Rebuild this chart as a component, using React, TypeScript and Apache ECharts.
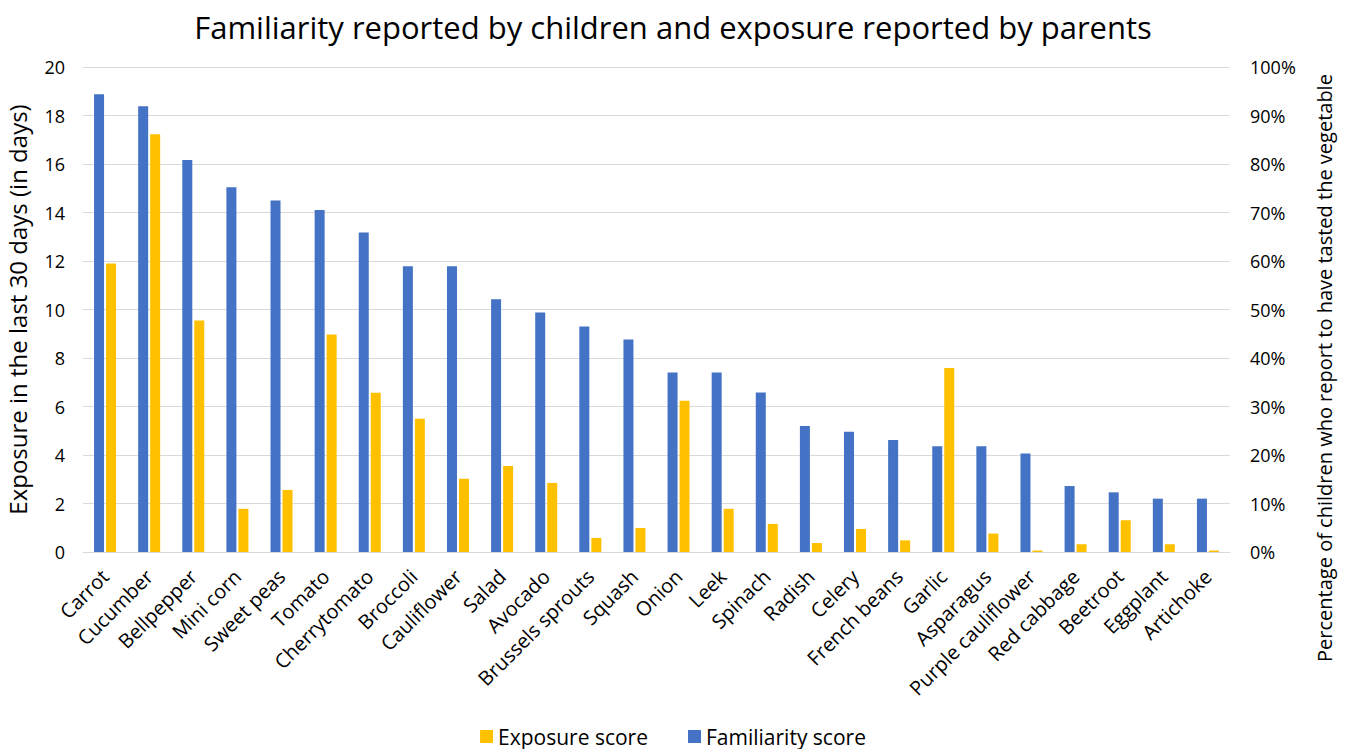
import React, { useEffect, useRef } from "react";
import * as echarts from "echarts";

const vegetables = [
  "Carrot", "Cucumber", "Bellpepper", "Mini corn", "Sweet peas", "Tomato",
  "Cherrytomato", "Broccoli", "Cauliflower", "Salad", "Avocado",
  "Brussels sprouts", "Squash", "Onion", "Leek", "Spinach", "Radish",
  "Celery", "French beans", "Garlic", "Asparagus", "Purple cauliflower",
  "Red cabbage", "Beetroot", "Eggplant", "Artichoke",
];

// Days of exposure in the last 30 days (parents' report)
const exposureScore = [
  11.9, 17.23, 9.55, 1.78, 2.56, 8.97, 6.57, 5.5, 3.02, 3.55, 2.85,
  0.58, 0.99, 6.24, 1.78, 1.16, 0.37, 0.95, 0.48, 7.59, 0.76, 0.06,
  0.32, 1.31, 0.32, 0.06,
];

// Share of children who report having tasted the vegetable (%)
const familiarityScore = [
  94.4, 91.9, 80.8, 75.2, 72.5, 70.5, 65.9, 58.9, 58.9, 52.1, 49.4,
  46.5, 43.8, 37.0, 37.0, 32.9, 26.0, 24.8, 23.1, 21.8, 21.8, 20.3,
  13.6, 12.3, 11.0, 11.0,
];

const FONT = "'Open Sans', 'Noto Sans', sans-serif";

export default function App() {
  const ref = useRef<HTMLDivElement>(null);

  useEffect(() => {
    if (!ref.current) return;
    const chart = echarts.init(ref.current, null, { renderer: "svg" });
    chart.setOption({
      animation: false,
      backgroundColor: "#ffffff",
      title: {
        text: "Familiarity reported by children and exposure reported by parents",
        left: "center",
        top: 6,
        textStyle: { fontFamily: FONT, fontSize: 31, fontWeight: "normal", color: "#000" },
      },
      legend: {
        data: ["Exposure score", "Familiarity score"],
        top: 721,
        left: "center",
        itemWidth: 13,
        itemHeight: 13,
        itemGap: 40,
        icon: "rect",
        textStyle: { fontFamily: FONT, fontSize: 21, color: "#000" },
      },
      grid: {
        left: 83,
        right: 116,
        top: 67,
        bottom: 197,
        containLabel: false,
        outerBoundsMode: "none",
      },
      xAxis: {
        type: "category",
        data: vegetables,
        axisTick: { show: false },
        axisLine: { lineStyle: { color: "#d9d9d9" } },
        axisLabel: {
          rotate: 45,
          interval: 0,
          margin: 21,
          fontFamily: FONT,
          fontSize: 20,
          color: "#000",
        },
      },
      yAxis: [
        {
          type: "value",
          min: 0,
          max: 20,
          interval: 2,
          name: "Exposure in the last 30 days (in days)",
          nameLocation: "middle",
          nameGap: 54,
          nameTextStyle: { fontFamily: FONT, fontSize: 24, color: "#000" },
          axisLabel: { fontFamily: FONT, fontSize: 18, color: "#000", margin: 18 },
          splitLine: { lineStyle: { color: "#d9d9d9", width: 1 } },
          axisLine: { show: false },
          axisTick: { show: false },
        },
        {
          type: "value",
          min: 0,
          max: 100,
          interval: 10,
          position: "right",
          axisLabel: {
            formatter: "{value}%",
            fontFamily: FONT,
            fontSize: 18,
            color: "#000",
            margin: 20,
          },
          splitLine: { show: false },
          axisLine: { show: false },
          axisTick: { show: false },
        },
      ],
      graphic: [
        {
          type: "text",
          x: 1324,
          y: 368,
          rotation: Math.PI / 2,
          style: {
            text: "Percentage of children who report to have tasted the vegetable",
            fontFamily: FONT,
            fontSize: 20,
            fill: "#000",
            align: "center",
            verticalAlign: "middle",
          },
        },
      ],
      series: [
        {
          name: "Familiarity score",
          type: "bar",
          yAxisIndex: 1,
          data: familiarityScore,
          barWidth: 10,
          barGap: "20%",
          itemStyle: { color: "#4472C4" },
        },
        {
          name: "Exposure score",
          type: "bar",
          yAxisIndex: 0,
          data: exposureScore,
          barWidth: 10,
          barGap: "20%",
          itemStyle: { color: "#FFC000" },
        },
      ],
    });
    return () => chart.dispose();
  }, []);

  return (
    <div
      ref={ref}
      style={{ position: "fixed", left: 0, top: 0, width: 1346, height: 749 }}
    />
  );
}
